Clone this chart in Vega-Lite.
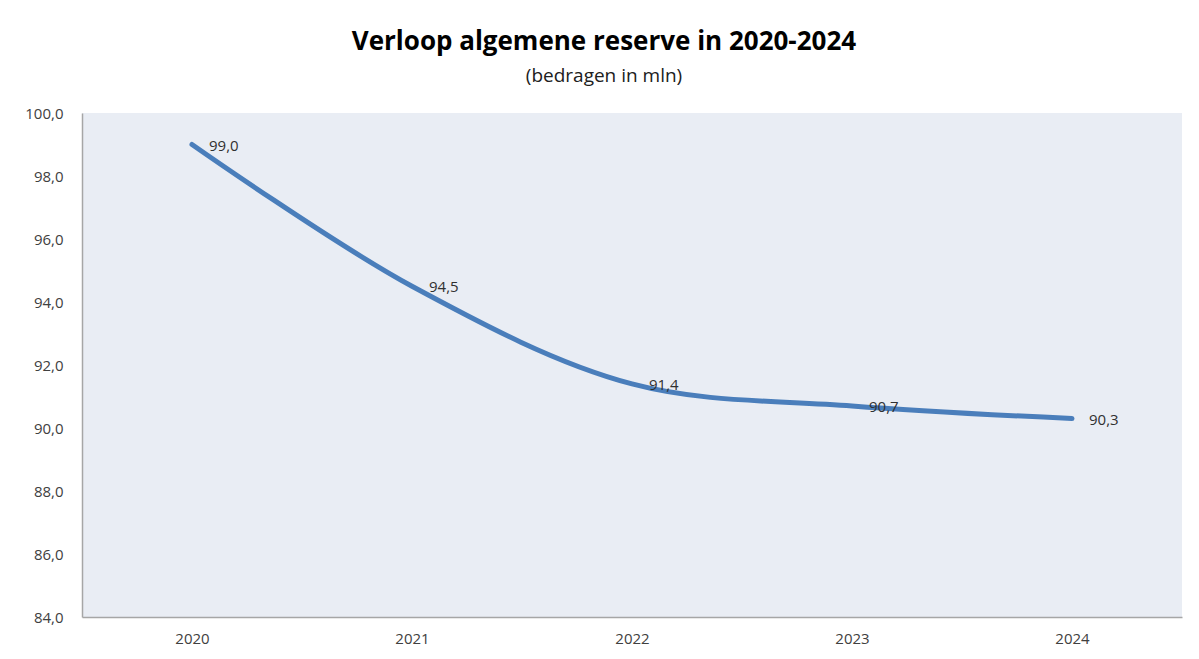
{
  "$schema": "https://vega.github.io/schema/vega-lite/v6.json",
  "width": 1100,
  "height": 504,
  "autosize": {"type": "none"},
  "padding": {"left": 82, "top": 113, "right": 17, "bottom": 42},
  "background": "#ffffff",
  "config": {
    "locale": {"number": {"decimal": ",", "thousands": ".", "grouping": [3], "currency": ["€", ""]}},
    "view": {"fill": "#e9edf4", "stroke": null},
    "font": "Open Sans"
  },
  "title": {
    "text": "Verloop algemene reserve in 2020-2024",
    "subtitle": "(bedragen in mln)",
    "anchor": "middle",
    "frame": "group",
    "dx": -28,
    "offset": 20,
    "font": "Open Sans",
    "fontSize": 26,
    "fontWeight": "bold",
    "color": "#000000",
    "subtitleFont": "Open Sans",
    "subtitleFontSize": 19,
    "subtitleColor": "#202020",
    "subtitlePadding": 12
  },
  "data": {
    "values": [
      {"jaar": "2020", "waarde": 99.0},
      {"jaar": "2021", "waarde": 94.5},
      {"jaar": "2022", "waarde": 91.4},
      {"jaar": "2023", "waarde": 90.7},
      {"jaar": "2024", "waarde": 90.3}
    ]
  },
  "encoding": {
    "x": {
      "field": "jaar",
      "type": "ordinal",
      "scale": {"type": "point", "padding": 0.5},
      "axis": {
        "title": null,
        "labelAngle": 0,
        "ticks": false,
        "labelPadding": 14,
        "labelFontSize": 15,
        "labelColor": "#404040",
        "domainColor": "#a6a6a6",
        "domainWidth": 1.5,
        "grid": false
      }
    },
    "y": {
      "field": "waarde",
      "type": "quantitative",
      "scale": {"domain": [84, 100], "nice": false, "zero": false},
      "axis": {
        "title": null,
        "values": [84, 86, 88, 90, 92, 94, 96, 98, 100],
        "format": ".1f",
        "ticks": false,
        "labelPadding": 19,
        "labelFontSize": 15,
        "labelColor": "#404040",
        "domainColor": "#a6a6a6",
        "domainWidth": 1.5,
        "grid": false
      }
    }
  },
  "layer": [
    {
      "mark": {"type": "line", "color": "#4a7ebb", "strokeWidth": 5, "interpolate": "catmull-rom", "strokeCap": "round"}
    },
    {
      "mark": {"type": "text", "align": "left", "baseline": "middle", "dx": 17, "dy": 1, "fontSize": 15, "color": "#303030"},
      "encoding": {"text": {"field": "waarde", "type": "quantitative", "format": ".1f"}}
    }
  ]
}
